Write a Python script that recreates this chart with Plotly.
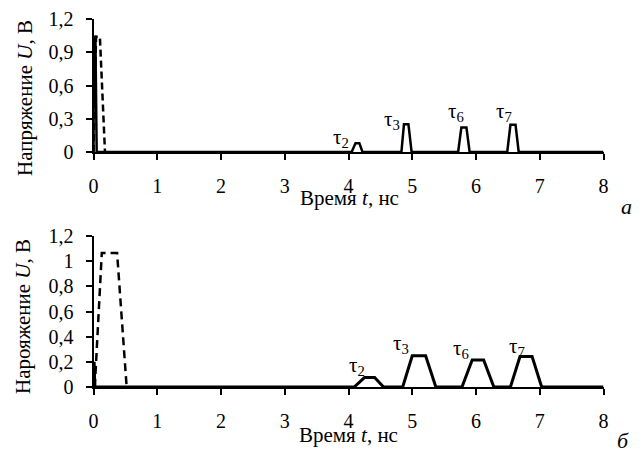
import plotly.graph_objects as go

# ---- data ----
x_ticks = [0, 1, 2, 3, 4, 5, 6, 7, 8]
x_tick_text = ["0", "1", "2", "3", "4", "5", "6", "7", "8"]

a_y_ticks = [0, 0.3, 0.6, 0.9, 1.2]
a_y_tick_text = ["0", "0,3", "0,6", "0,9", "1,2"]
b_y_ticks = [0, 0.2, 0.4, 0.6, 0.8, 1.0, 1.2]
b_y_tick_text = ["0", "0,2", "0,4", "0,6", "0,8", "1", "1,2"]

# panel a
a_solid_t = [0, 0.005, 0.03, 0.05, 4.05, 4.11, 4.17, 4.22, 4.83, 4.87, 4.94, 4.99,
             5.72, 5.77, 5.85, 5.90, 6.49, 6.54, 6.62, 6.67, 8]
a_solid_u = [0, 1.04, 1.04, 0, 0, 0.08, 0.08, 0, 0, 0.25, 0.25, 0,
             0, 0.22, 0.22, 0, 0, 0.245, 0.245, 0, 0]
a_dash_t = [0, 0.04, 0.1, 0.18]
a_dash_u = [0, 1.04, 1.04, 0]

# panel b
b_solid_t = [0, 0.01, 0.02, 4.09, 4.25, 4.41, 4.55, 4.85, 5.0, 5.21, 5.37,
             5.78, 5.94, 6.12, 6.28, 6.54, 6.69, 6.88, 7.03, 8]
b_solid_u = [0, 0.2, 0, 0, 0.075, 0.075, 0, 0, 0.248, 0.248, 0,
             0, 0.215, 0.215, 0, 0, 0.242, 0.242, 0, 0]
b_dash_t = [0.02, 0.13, 0.37, 0.52]
b_dash_u = [0, 1.065, 1.065, 0]

tau_labels = ["τ<sub>2</sub>", "τ<sub>3</sub>", "τ<sub>6</sub>", "τ<sub>7</sub>"]
a_tau_t = [3.88, 4.68, 5.69, 6.44]
a_tau_u = [0.13, 0.29, 0.36, 0.36]
b_tau_t = [4.13, 4.82, 5.76, 6.65]
b_tau_u = [0.17, 0.34, 0.30, 0.32]

FONT = "Liberation Serif"
OFF = 8                      # page body margin of the browser
W, H = 644 - OFF, 453 - OFF  # figure size so that window pixels line up


def fx(px):
    return (px - OFF) / W


def fy(py):
    return 1 - (py - OFF) / H


fig = go.Figure()
fig.add_trace(go.Scatter(x=a_solid_t, y=a_solid_u, mode="lines",
                         line=dict(color="black", width=2.5), xaxis="x", yaxis="y"))
fig.add_trace(go.Scatter(x=a_dash_t, y=a_dash_u, mode="lines",
                         line=dict(color="black", width=2.5, dash="7px,4px"), xaxis="x", yaxis="y"))
fig.add_trace(go.Scatter(x=b_solid_t, y=b_solid_u, mode="lines",
                         line=dict(color="black", width=3), xaxis="x2", yaxis="y2"))
fig.add_trace(go.Scatter(x=b_dash_t, y=b_dash_u, mode="lines",
                         line=dict(color="black", width=2.5, dash="8px,5px"), xaxis="x2", yaxis="y2"))

xdom = [fx(93.5), fx(603.5)]
axis_common = dict(showline=True, linecolor="black", linewidth=2, ticks="outside",
                   ticklen=6, tickwidth=2, tickcolor="black", showgrid=False,
                   zeroline=False, automargin=False, ticklabeloverflow="allow",
                   tickfont=dict(family=FONT, size=20, color="black"))
x_common = dict(axis_common, ticklabelstandoff=9)
y_common = dict(axis_common, ticklabelstandoff=8)

fig.update_layout(
    template="none",
    width=W, height=H, showlegend=False,
    paper_bgcolor="white", plot_bgcolor="white",
    margin=dict(l=0, r=0, t=0, b=0),
    font=dict(family=FONT, color="black"),
    xaxis=dict(domain=xdom, range=[0, 8], tickvals=x_ticks, ticktext=x_tick_text,
               anchor="y", **x_common),
    yaxis=dict(domain=[fy(152), fy(19)], range=[0, 1.2], tickvals=a_y_ticks,
               ticktext=a_y_tick_text, anchor="x", **y_common),
    xaxis2=dict(domain=xdom, range=[0, 8], tickvals=x_ticks, ticktext=x_tick_text,
                anchor="y2", **x_common),
    yaxis2=dict(domain=[fy(387), fy(236)], range=[0, 1.2], tickvals=b_y_ticks,
                ticktext=b_y_tick_text, anchor="x2", **y_common),
)

ann = []
for lab, t, u in zip(tau_labels, a_tau_t, a_tau_u):
    ann.append(dict(x=t, y=u, xref="x", yref="y", text=lab, showarrow=False,
                    font=dict(family=FONT, size=21, color="black")))
for lab, t, u in zip(tau_labels, b_tau_t, b_tau_u):
    ann.append(dict(x=t, y=u, xref="x2", yref="y2", text=lab, showarrow=False,
                    font=dict(family=FONT, size=21, color="black")))

for text, (px, py), ang in [
    ("Напряжение <i>U</i>, В", (25, 98), -90),
    ("Нарояжение <i>U</i>, В", (23, 317), -90),
    ("Время <i>t</i>, нс", (349, 198), 0),
    ("Время <i>t</i>, нс", (348, 435), 0),
]:
    ann.append(dict(x=fx(px), y=fy(py), xref="paper", yref="paper", text=text,
                    showarrow=False, textangle=ang, xanchor="center", yanchor="middle",
                    font=dict(family=FONT, size=21, color="black")))

for text, (px, py) in [("<i>а</i>", (626, 206)), ("<i>б</i>", (623, 440))]:
    ann.append(dict(x=fx(px), y=fy(py), xref="paper", yref="paper", text=text,
                    showarrow=False, xanchor="center", yanchor="middle",
                    font=dict(family=FONT, size=22, color="black")))

fig.update_layout(annotations=ann)
fig.write_html("out.html")
